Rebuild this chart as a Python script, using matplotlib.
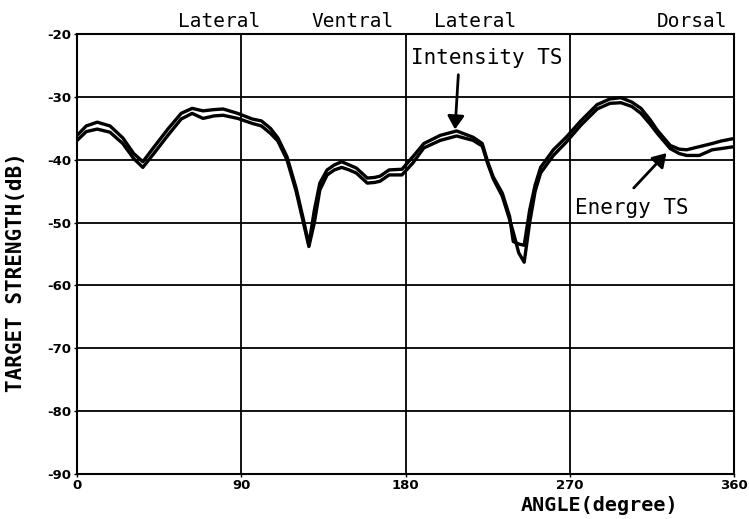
import matplotlib.pyplot as plt
import numpy as np

# angle (degree) and the two target strength curves (dB)
angle = [0, 5, 11, 18, 25, 31, 36, 42, 50, 57, 63, 69, 75, 80, 88, 96, 101,
         106, 110, 115, 120, 124, 127, 130, 133, 137, 141, 145, 149, 153, 159,
         163, 166, 171, 178, 184, 190, 199, 208, 217, 222, 225, 228, 233, 237,
         239, 242, 245, 248, 251, 254, 261, 268, 276, 285, 292, 298, 304, 309,
         314, 318, 325, 330, 334, 341, 348, 353, 360]
intensity_ts = [-36.1, -34.6, -34.0, -34.6, -36.5, -39.0, -40.3, -38.0, -35.0,
                -32.6, -31.8, -32.2, -32.0, -31.9, -32.6, -33.5, -33.8, -35.0,
                -36.5, -39.5, -44.5, -49.5, -53.5, -48.0, -43.7, -41.6, -40.8,
                -40.3, -40.8, -41.3, -42.9, -42.8, -42.6, -41.6, -41.5, -39.5,
                -37.4, -36.1, -35.4, -36.4, -37.4, -40.3, -42.7, -45.3, -49.0,
                -53.0, -53.4, -53.6, -48.0, -44.0, -41.2, -38.4, -36.4, -33.8,
                -31.2, -30.3, -30.1, -30.8, -31.8, -33.6, -35.3, -37.7, -38.3,
                -38.4, -37.9, -37.4, -37.0, -36.6]
energy_ts = [-36.9, -35.5, -35.1, -35.6, -37.4, -39.8, -41.2, -39.0, -36.0,
             -33.5, -32.6, -33.4, -33.0, -32.9, -33.4, -34.2, -34.6, -35.8,
             -37.0, -40.0, -45.0, -50.0, -53.8, -50.0, -44.8, -42.4, -41.6,
             -41.2, -41.6, -42.1, -43.7, -43.6, -43.4, -42.4, -42.4, -40.5,
             -38.1, -36.9, -36.2, -36.9, -37.8, -40.6, -43.0, -45.8, -49.5,
             -51.5, -54.8, -56.3, -50.0, -45.0, -42.1, -39.3, -37.2, -34.5,
             -31.9, -31.0, -30.9, -31.5, -32.6, -34.3, -35.8, -38.2, -39.0,
             -39.3, -39.3, -38.4, -38.2, -37.9]

x_ticks = [0, 90, 180, 270, 360]
y_ticks = [-90, -80, -70, -60, -50, -40, -30, -20]
aspects = ["Lateral", "Ventral", "Lateral", "Dorsal"]
aspect_x = [78, 151, 218, 337]

mono = "DejaVu Sans Mono"

fig = plt.figure(figsize=(7.49, 5.19), dpi=100)
ax = fig.add_axes([0.103, 0.087, 0.877, 0.847])

ax.plot(angle, intensity_ts, color="black", lw=2.4)
ax.plot(angle, energy_ts, color="black", lw=2.4)

ax.set_xlim(0, 360)
ax.set_ylim(-90, -20)
ax.set_xticks(x_ticks)
ax.set_yticks(y_ticks)
ax.set_xticklabels([str(t) for t in x_ticks], fontweight="bold", fontsize=9.5)
ax.set_yticklabels([str(t) for t in y_ticks], fontweight="bold", fontsize=9.5)
ax.tick_params(length=2, width=1, pad=2)
ax.grid(True, color="black", lw=1.3)
for s in ax.spines.values():
    s.set_linewidth(1.5)

ax.set_ylabel("TARGET STRENGTH(dB)", family=mono, fontweight="bold",
              fontsize=15)
ax.yaxis.set_label_coords(-0.078, 0.46)
ax.text(0.795, -0.072, "ANGLE(degree)", transform=ax.transAxes, ha="center",
        va="center", family=mono, fontweight="bold", fontsize=14.5)

for lab, xv in zip(aspects, aspect_x):
    ax.text(xv, 1.03, lab, transform=ax.get_xaxis_transform(), ha="center",
            va="center", family=mono, fontsize=14)

ax.text(183, -23.8, "Intensity TS", family=mono, fontsize=15, va="center")
ax.text(273, -47.7, "Energy TS", family=mono, fontsize=15, va="center")
ax.annotate("", xy=(207, -35.6), xytext=(209, -26),
            arrowprops=dict(arrowstyle="-|>,head_width=0.5,head_length=0.8",
                            color="black", lw=2))
ax.annotate("", xy=(324, -38.6), xytext=(304, -44.8),
            arrowprops=dict(arrowstyle="-|>,head_width=0.5,head_length=0.8",
                            color="black", lw=2))

fig.savefig("out.png", dpi=100)
